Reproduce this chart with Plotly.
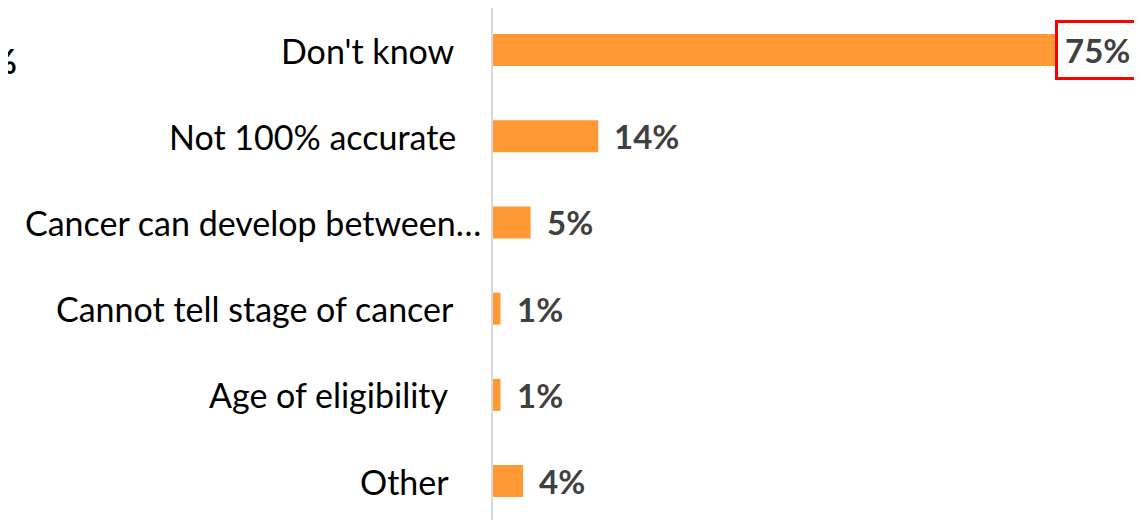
import plotly.graph_objects as go

categories = ["Don't know", "Not 100% accurate", "Cancer can develop between…",
              "Cannot tell stage of cancer", "Age of eligibility", "Other"]
values = [75, 14, 5, 1, 1, 4]
value_labels = ["75%", "14%", "5%", "1%", "1%", "4%"]

# style-only offsets (pixels) for category label right edges and value labels
cat_shift = [-36, -35, -10, -37, -42, -42]
val_shift = [-2, 14, 14, 14, 14, 14]

BAR = "#FF9933"
FONT = "Lato"

fig = go.Figure()
fig.add_trace(go.Bar(
    y=categories, x=values, orientation="h",
    marker=dict(color=BAR, line=dict(width=0)),
    width=0.371, hoverinfo="skip",
))

ann = []
for i, (c, v, t) in enumerate(zip(categories, values, value_labels)):
    ann.append(dict(x=0, y=c, xref="x", yref="y", text=c, showarrow=False,
                    xanchor="right", yanchor="middle", xshift=cat_shift[i],
                    font=dict(family=FONT, size=34, color="#000000")))
    a = dict(x=v, y=c, xref="x", yref="y", text="<b>%s</b>" % t, showarrow=False,
             xanchor="left", yanchor="middle", xshift=val_shift[i],
             font=dict(family=FONT, size=33, color="#404040"))
    if i == 0:
        a.update(bordercolor="#FF0000", borderwidth=3, borderpad=7)
    ann.append(a)

# clipped "%" at the far left edge
ann.append(dict(x=0, y=categories[0], xref="paper", yref="y", text="<b>%</b>",
                showarrow=False, xanchor="right", yanchor="middle", xshift=-474, yshift=-10,
                font=dict(family=FONT, size=34, color="#000000")))

fig.update_layout(
    width=1134, height=512,
    margin=dict(l=485, r=0, t=0, b=0),
    paper_bgcolor="white", plot_bgcolor="white",
    showlegend=False,
    annotations=ann,
    xaxis=dict(range=[0, 86.3], visible=False, fixedrange=True),
    yaxis=dict(range=[5.452, -0.488], showticklabels=False, ticks="",
               showgrid=False, zeroline=False,
               showline=True, linecolor="#D9D9D9", linewidth=2, fixedrange=True),
)

fig.write_html("out.html", config={"displayModeBar": False})
